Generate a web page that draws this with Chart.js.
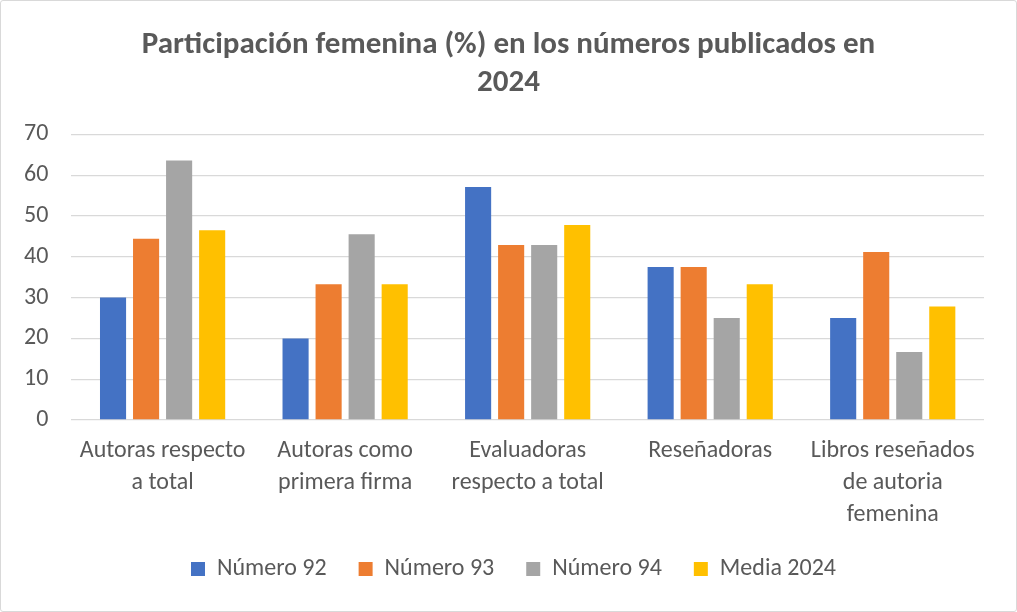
<!DOCTYPE html>
<html>
<head>
<meta charset="utf-8">
<script src="https://cdn.jsdelivr.net/npm/chart.js@4"></script>
<style>
html,body{margin:0;padding:0;background:#fff;}
#wrap{position:relative;width:1017px;height:612px;box-sizing:border-box;border:1px solid #d9d9d9;border-radius:3px;}
canvas{display:block;}
</style>
</head>
<body>
<div id="wrap"><canvas id="c"></canvas></div>
<script>
const categories = [
  ["Autoras respecto", "a total"],
  ["Autoras como", "primera firma"],
  ["Evaluadoras", "respecto a total"],
  ["Reseñadoras"],
  ["Libros reseñados", "de autoria", "femenina"]
];
const seriesNames = ["Número 92", "Número 93", "Número 94", "Media 2024"];
const numero92 = [30.0, 20.0, 57.1, 37.5, 25.0];
const numero93 = [44.4, 33.3, 42.9, 37.5, 41.2];
const numero94 = [63.6, 45.5, 42.9, 25.0, 16.7];
const media2024 = [46.5, 33.3, 47.8, 33.3, 27.8];
const colors = ["#4472C4", "#ED7D31", "#A5A5A5", "#FFC000"];
const titleLines = ["Participación femenina (%) en los números publicados en", "2024"];

const FONT = "Carlito, Calibri, Lato, sans-serif";
const seriesValues = [numero92, numero93, numero94, media2024];

const boxShift = {
  id: 'boxShift',
  afterLayout(chart) {
    const lg = chart.legend;
    if (lg) {
      lg.left += 21; lg.right += 21;
      lg.top -= 13; lg.bottom -= 13;
    }
    const tb = chart.titleBlock;
    if (tb) { tb.left += 16; tb.right += 16; }
  }
};

new Chart(document.getElementById('c'), {
  type: 'bar',
  data: {
    labels: categories,
    datasets: seriesValues.map((v, i) => ({
      label: seriesNames[i],
      data: v,
      backgroundColor: colors[i],
      borderWidth: 0,
      categoryPercentage: 0.724,
      barPercentage: 0.79
    }))
  },
  plugins: [boxShift],
  options: {
    responsive: true,
    maintainAspectRatio: false,
    animation: false,
    devicePixelRatio: 1,
    layout: { padding: { left: 0, right: 32, top: 14, bottom: 7 } },
    plugins: {
      title: {
        display: true,
        text: titleLines,
        color: '#595959',
        font: { family: FONT, size: 31, weight: 'bold', lineHeight: 1.2 },
        padding: { top: 12, bottom: 33 }
      },
      legend: {
        position: 'bottom',
        labels: {
          color: '#595959',
          font: { family: FONT, size: 24 },
          boxWidth: 14,
          boxHeight: 14,
          padding: 32
        }
      },
      tooltip: { enabled: false }
    },
    scales: {
      x: {
        grid: { display: false },
        border: { display: false },
        ticks: {
          color: '#595959',
          font: { family: FONT, size: 24, lineHeight: 1.333 },
          padding: 7,
          maxRotation: 0,
          autoSkip: false
        }
      },
      y: {
        min: 0,
        max: 70,
        ticks: {
          stepSize: 10,
          color: '#595959',
          font: { family: FONT, size: 24 },
          padding: 23
        },
        grid: { color: '#d9d9d9', lineWidth: 1.3, drawTicks: false },
        border: { display: false }
      }
    }
  }
});
</script>
</body>
</html>
